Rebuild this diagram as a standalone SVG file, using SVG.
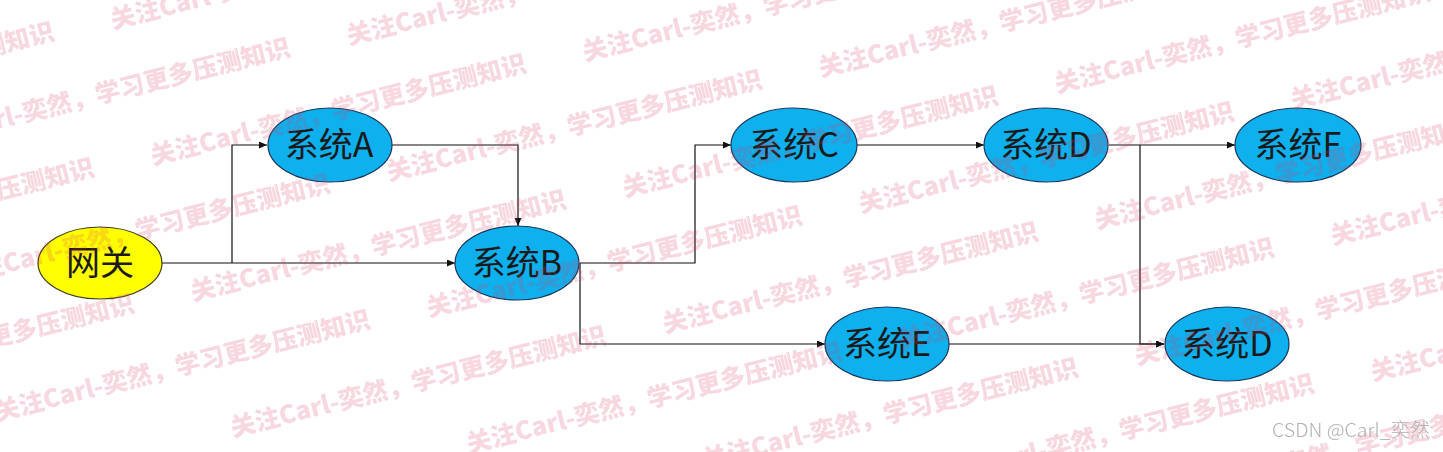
<svg xmlns="http://www.w3.org/2000/svg" width="1443" height="452" viewBox="0 0 1443 452">
<style>
.node-blue{fill:#0eb0ee;stroke:#1b3558;stroke-width:1.2}
.node-yellow{fill:#ffff00;stroke:#3d3d20;stroke-width:1.2}
.lbl{font-family:"Noto Sans CJK SC","Liberation Sans",sans-serif;font-size:34px;fill:#1a1a1a;text-anchor:middle}
.conn{fill:none;stroke:#111;stroke-width:1.2}
.wm{font-family:"Noto Sans CJK SC","Liberation Sans",sans-serif;font-size:25px;font-weight:900;fill:#dc3c64}
.credit{font-family:"Noto Sans CJK SC","Liberation Sans",sans-serif;font-size:19px;font-weight:300;fill:#b0b0b0}
</style>
<defs>
<marker id="arr" markerUnits="userSpaceOnUse" markerWidth="9" markerHeight="8" refX="8" refY="3.5" orient="auto">
<path d="M0,0 L8,3.5 L0,7 z" fill="#111"/>
</marker>
<text id="wm" class="wm">关注Carl-奕然，学习更多压测知识</text>
</defs>
<rect width="1443" height="452" fill="#fff"/>
<g id="connectors">
<path class="conn" d="M162,263 H455" marker-end="url(#arr)"/>
<path class="conn" d="M232,263 V145 H267" marker-end="url(#arr)"/>
<path class="conn" d="M392,145 H518 V226" marker-end="url(#arr)"/>
<path class="conn" d="M580,263 H695 V145 H731" marker-end="url(#arr)"/>
<path class="conn" d="M580,263 V344 H825" marker-end="url(#arr)"/>
<path class="conn" d="M857,145 H984" marker-end="url(#arr)"/>
<path class="conn" d="M1109,145 H1235" marker-end="url(#arr)"/>
<path class="conn" d="M1140,145 V344 H1164" marker-end="url(#arr)"/>
<path class="conn" d="M949,344 H1164" marker-end="url(#arr)"/>
</g>
<g id="gateway"><ellipse class="node-yellow" cx="100" cy="263" rx="62" ry="36"/><text class="lbl" x="100" y="275">网关</text></g>
<g id="sysA"><ellipse class="node-blue" cx="330" cy="145" rx="62" ry="37"/><text class="lbl" x="329" y="157">系统A</text></g>
<g id="sysB"><ellipse class="node-blue" cx="517" cy="263" rx="62" ry="37"/><text class="lbl" x="517" y="275">系统B</text></g>
<g id="sysC"><ellipse class="node-blue" cx="794" cy="145" rx="63" ry="37"/><text class="lbl" x="794" y="157">系统C</text></g>
<g id="sysD1"><ellipse class="node-blue" cx="1046" cy="145" rx="62" ry="37"/><text class="lbl" x="1046" y="157">系统D</text></g>
<g id="sysF"><ellipse class="node-blue" cx="1298" cy="145" rx="63" ry="37"/><text class="lbl" x="1298" y="157">系统F</text></g>
<g id="sysE"><ellipse class="node-blue" cx="887" cy="344" rx="62" ry="37"/><text class="lbl" x="887" y="356">系统E</text></g>
<g id="sysD2"><ellipse class="node-blue" cx="1227" cy="344" rx="62" ry="37"/><text class="lbl" x="1227" y="356">系统D</text></g>
<g id="watermark" opacity="0.2">
<use href="#wm" transform="translate(113,29) rotate(-14)"/>
<use href="#wm" transform="translate(349,45) rotate(-14)"/>
<use href="#wm" transform="translate(585,61) rotate(-14)"/>
<use href="#wm" transform="translate(821,77) rotate(-14)"/>
<use href="#wm" transform="translate(1057,93) rotate(-14)"/>
<use href="#wm" transform="translate(1293,109) rotate(-14)"/>
<use href="#wm" transform="translate(-319,133) rotate(-14)"/>
<use href="#wm" transform="translate(-83,149) rotate(-14)"/>
<use href="#wm" transform="translate(153,165) rotate(-14)"/>
<use href="#wm" transform="translate(389,181) rotate(-14)"/>
<use href="#wm" transform="translate(625,197) rotate(-14)"/>
<use href="#wm" transform="translate(861,213) rotate(-14)"/>
<use href="#wm" transform="translate(1097,229) rotate(-14)"/>
<use href="#wm" transform="translate(1333,245) rotate(-14)"/>
<use href="#wm" transform="translate(-279,269) rotate(-14)"/>
<use href="#wm" transform="translate(-43,285) rotate(-14)"/>
<use href="#wm" transform="translate(193,301) rotate(-14)"/>
<use href="#wm" transform="translate(429,317) rotate(-14)"/>
<use href="#wm" transform="translate(665,333) rotate(-14)"/>
<use href="#wm" transform="translate(901,349) rotate(-14)"/>
<use href="#wm" transform="translate(1137,365) rotate(-14)"/>
<use href="#wm" transform="translate(1373,381) rotate(-14)"/>
<use href="#wm" transform="translate(-239,405) rotate(-14)"/>
<use href="#wm" transform="translate(-3,421) rotate(-14)"/>
<use href="#wm" transform="translate(233,437) rotate(-14)"/>
<use href="#wm" transform="translate(469,453) rotate(-14)"/>
<use href="#wm" transform="translate(705,469) rotate(-14)"/>
<use href="#wm" transform="translate(941,485) rotate(-14)"/>
<use href="#wm" transform="translate(1177,501) rotate(-14)"/>
</g>
<text class="credit" x="1272" y="437" textLength="158" lengthAdjust="spacingAndGlyphs">CSDN @Carl_奕然</text>
</svg>
